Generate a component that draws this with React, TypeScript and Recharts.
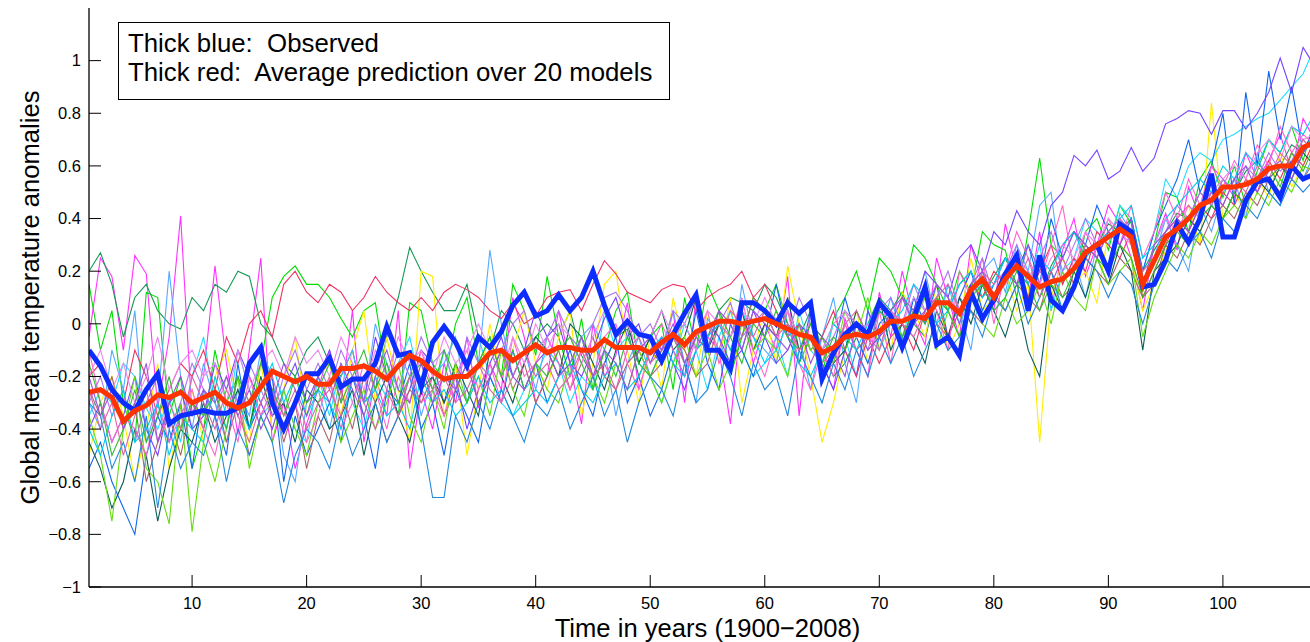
import React from 'react';
import { LineChart, Line, XAxis, YAxis } from 'recharts';

const FONT = '"Liberation Sans", Arial, Helvetica, sans-serif';

// time index 1..109 (1900-2008)
const years: number[] = Array.from({ length: 109 }, (_, i) => i + 1);
const xTicks = [10, 20, 30, 40, 50, 60, 70, 80, 90, 100];
const yTicks = [-1, -0.8, -0.6, -0.4, -0.2, 0, 0.2, 0.4, 0.6, 0.8, 1];

const observed = [
  -0.10, -0.16, -0.25, -0.30, -0.33, -0.25, -0.19, -0.38, -0.35, -0.34,
  -0.33, -0.34, -0.34, -0.32, -0.15, -0.09, -0.30, -0.40, -0.30, -0.19,
  -0.19, -0.13, -0.24, -0.21, -0.21, -0.15, -0.01, -0.12, -0.11, -0.24,
  -0.07, -0.01, -0.07, -0.16, -0.05, -0.09, -0.03, 0.07, 0.12, 0.03,
  0.05, 0.11, 0.05, 0.10, 0.20, 0.07, -0.04, 0.01, -0.04, -0.05,
  -0.14, -0.04, 0.04, 0.11, -0.10, -0.10, -0.17, 0.08, 0.08, 0.05,
  0.00, 0.08, 0.04, 0.08, -0.21, -0.11, -0.04, 0.00, -0.04, 0.08,
  0.03, -0.09, 0.02, 0.14, -0.08, -0.05, -0.12, 0.12, 0.02, 0.09,
  0.19, 0.26, 0.05, 0.26, 0.09, 0.05, 0.14, 0.27, 0.30, 0.20,
  0.38, 0.35, 0.14, 0.15, 0.24, 0.38, 0.31, 0.40, 0.57, 0.33,
  0.33, 0.47, 0.54, 0.55, 0.48, 0.60, 0.55, 0.57, 0.45,
];

const average = [
  -0.26, -0.25, -0.28, -0.37, -0.33, -0.31, -0.27, -0.28, -0.26, -0.30,
  -0.28, -0.26, -0.30, -0.32, -0.30, -0.24, -0.18, -0.20, -0.22, -0.20,
  -0.23, -0.23, -0.17, -0.17, -0.16, -0.18, -0.21, -0.16, -0.12, -0.14,
  -0.18, -0.21, -0.20, -0.20, -0.16, -0.11, -0.10, -0.14, -0.11, -0.08,
  -0.11, -0.09, -0.09, -0.10, -0.10, -0.06, -0.09, -0.09, -0.09, -0.11,
  -0.07, -0.04, -0.08, -0.03, -0.01, 0.01, 0.01, 0.00, 0.01, 0.02,
  0.00, -0.02, -0.04, -0.05, -0.11, -0.09, -0.05, -0.04, -0.05, -0.03,
  0.01, 0.01, 0.03, 0.02, 0.08, 0.08, 0.04, 0.13, 0.17, 0.10,
  0.17, 0.22, 0.18, 0.14, 0.16, 0.17, 0.21, 0.27, 0.30, 0.33,
  0.36, 0.33, 0.15, 0.24, 0.33, 0.36, 0.40, 0.45, 0.47, 0.52,
  0.52, 0.53, 0.55, 0.59, 0.60, 0.60, 0.67, 0.69, 0.66,
];

const model01 = [
  -0.05, 0.25, 0.18, -0.10, 0.26, 0.19, -0.32, -0.05, 0.41, -0.35,
  -0.20, 0.22, -0.15, -0.42, -0.10, 0.25, -0.45, -0.30, -0.55, -0.38,
  -0.25, -0.10, -0.30, 0.05, -0.45, -0.20, -0.35, 0.05, -0.55, -0.25,
  -0.40, -0.15, -0.30, -0.05, -0.32, -0.15, -0.25, 0.10, -0.05, -0.30,
  -0.20, 0.05, -0.15, -0.38, 0.00, -0.20, -0.12, 0.08, -0.25, -0.10,
  -0.15, 0.05, -0.30, 0.10, -0.05, -0.10, -0.38, 0.05, -0.15, 0.00,
  -0.10, 0.18, -0.35, 0.05, -0.15, -0.25, 0.02, -0.10, -0.20, 0.12,
  -0.05, 0.20, 0.02, -0.08, 0.25, 0.10, -0.05, 0.30, 0.15, 0.05,
  0.38, 0.20, 0.10, 0.35, 0.05, 0.28, 0.40, 0.18, 0.30, 0.45,
  0.38, 0.25, 0.05, 0.30, 0.42, 0.28, 0.52, 0.40, 0.60, 0.55,
  0.48, 0.65, 0.55, 0.62, 0.72, 0.58, 0.78, 0.70, 0.75,
];
const model02 = [
  0.15, -0.10, 0.05, -0.30, -0.45, 0.12, 0.10, -0.35, -0.20, -0.55,
  -0.40, -0.10, -0.30, -0.20, -0.40, -0.15, 0.10, 0.18, 0.22, 0.15,
  0.15, 0.10, 0.02, -0.05, 0.05, 0.08, -0.20, -0.35, 0.08, 0.05,
  -0.15, -0.22, 0.00, 0.10, -0.15, -0.05, -0.20, 0.15, 0.05, -0.12,
  0.18, -0.05, -0.20, 0.02, -0.25, -0.10, 0.05, 0.12, -0.15, -0.05,
  0.00, -0.25, 0.10, -0.10, 0.15, 0.05, -0.20, -0.05, 0.10, 0.05,
  0.15, 0.00, -0.15, -0.05, -0.20, 0.02, 0.10, 0.20, 0.05, 0.25,
  0.20, 0.10, 0.30, 0.25, 0.15, 0.05, 0.20, 0.12, 0.35, 0.30,
  0.28, 0.10, 0.35, 0.63, 0.30, 0.25, 0.15, 0.35, 0.40, 0.28,
  0.45, 0.38, 0.12, 0.30, 0.50, 0.48, 0.35, 0.55, 0.62, 0.48,
  0.60, 0.45, 0.58, 0.70, 0.65, 0.75, 0.62, 0.78, 0.70,
];
const model03 = [
  0.20, 0.27, 0.15, -0.05, 0.10, 0.15, 0.05, 0.00, -0.02, 0.10,
  0.05, 0.15, 0.12, 0.20, 0.18, 0.00, -0.05, -0.15, -0.20, -0.10,
  -0.05, -0.15, -0.20, -0.10, -0.30, -0.25, -0.05, 0.10, 0.29, 0.20,
  0.12, 0.05, 0.05, 0.15, -0.05, -0.10, 0.05, 0.00, -0.10, -0.05,
  0.00, -0.05, 0.05, -0.12, -0.20, -0.15, -0.05, -0.02, -0.20, -0.10,
  -0.15, -0.05, 0.00, -0.10, -0.05, 0.05, 0.10, 0.08, 0.05, 0.15,
  0.10, 0.00, -0.05, 0.05, -0.10, -0.20, -0.15, -0.05, 0.00, 0.10,
  0.05, 0.12, 0.00, -0.05, 0.10, 0.05, 0.15, 0.20, 0.10, 0.18,
  0.25, 0.15, 0.20, 0.10, 0.22, 0.30, 0.35, 0.28, 0.30, 0.38,
  0.35, 0.40, 0.20, 0.28, 0.35, 0.42, 0.40, 0.50, 0.45, 0.55,
  0.50, 0.58, 0.62, 0.55, 0.60, 0.68, 0.65, 0.72, 0.70,
];
const model04 = [
  -0.50, -0.30, -0.20, -0.35, -0.60, -0.40, -0.15, -0.55, -0.35, -0.25,
  -0.45, -0.20, -0.10, -0.30, -0.45, -0.15, -0.40, -0.25, -0.05, -0.35,
  -0.20, -0.15, -0.35, -0.10, 0.05, -0.30, -0.05, -0.25, -0.45, 0.20,
  0.18, -0.35, -0.15, -0.50, -0.25, 0.00, -0.20, -0.10, 0.05, -0.15,
  -0.25, -0.05, 0.05, -0.35, -0.15, 0.15, 0.20, -0.10, -0.30, -0.05,
  -0.25, 0.10, -0.10, -0.20, 0.05, -0.15, 0.10, -0.30, -0.10, 0.05,
  -0.15, 0.22, 0.00, -0.20, -0.45, -0.30, -0.10, 0.05, -0.15, 0.00,
  -0.10, 0.12, 0.05, -0.05, 0.15, -0.10, 0.00, 0.25, 0.05, 0.10,
  0.20, 0.05, 0.15, -0.45, 0.10, 0.25, 0.15, 0.20, 0.08, 0.35,
  0.30, 0.25, 0.05, 0.15, 0.28, 0.35, 0.45, 0.30, 0.84, 0.40,
  0.50, 0.42, 0.55, 0.48, 0.65, 0.52, 0.60, 0.70, 0.62,
];
const model05 = [
  -0.35, -0.25, -0.30, -0.15, -0.20, -0.32, -0.40, -0.28, -0.45, -0.20,
  -0.05, -0.30, -0.40, -0.10, -0.25, -0.35, -0.30, -0.25, -0.40, -0.45,
  -0.20, -0.35, -0.15, -0.30, -0.40, -0.20, -0.28, -0.15, -0.05, -0.25,
  -0.30, -0.10, -0.25, -0.15, -0.05, -0.20, -0.30, -0.35, -0.25, -0.20,
  -0.10, -0.15, -0.30, -0.20, -0.25, 0.05, -0.10, -0.05, -0.15, -0.20,
  -0.30, -0.15, 0.00, -0.10, -0.25, -0.05, 0.05, -0.10, -0.20, -0.15,
  -0.05, -0.20, 0.05, -0.10, -0.15, 0.00, -0.05, -0.20, 0.05, -0.10,
  0.00, -0.05, 0.10, 0.05, -0.05, 0.15, 0.00, 0.10, 0.20, 0.05,
  0.10, 0.25, 0.15, 0.30, 0.05, 0.20, 0.25, 0.40, 0.35, 0.30,
  0.45, 0.40, 0.20, 0.35, 0.55, 0.48, 0.60, 0.65, 0.62, 0.70,
  0.72, 0.75, 0.78, 0.80, 0.85, 0.90, 0.95, 1.05, 1.00,
];
const model06 = [
  -0.30, -0.40, -0.10, -0.25, 0.05, -0.45, -0.30, 0.20, -0.20, -0.40,
  -0.15, -0.30, -0.45, -0.25, -0.35, -0.10, -0.20, -0.50, -0.60, -0.30,
  -0.25, -0.40, -0.20, -0.10, -0.30, 0.00, -0.15, -0.25, -0.10, -0.35,
  -0.20, -0.15, -0.05, -0.30, -0.15, 0.28, 0.00, -0.20, -0.10, -0.25,
  -0.05, -0.15, -0.20, -0.05, 0.00, -0.10, -0.35, -0.15, -0.05, -0.20,
  -0.10, 0.05, -0.15, -0.30, 0.02, -0.05, -0.20, 0.15, -0.05, -0.10,
  -0.15, 0.05, -0.05, -0.25, -0.05, 0.10, -0.15, -0.30, 0.05, -0.05,
  0.10, -0.05, 0.05, 0.20, 0.00, 0.15, 0.05, -0.10, 0.20, 0.25,
  0.12, 0.30, 0.20, 0.45, 0.50, 0.15, 0.25, 0.10, 0.30, 0.20,
  0.42, 0.35, 0.15, 0.25, 0.40, 0.30, 0.20, 0.45, 0.35, 0.50,
  0.55, 0.40, 0.65, 0.50, 0.45, 0.60, 0.55, 0.65, 0.60,
];
const model07 = [
  -0.55, -0.45, -0.60, -0.70, -0.80, -0.50, -0.35, -0.45, -0.30, -0.55,
  -0.25, -0.35, -0.50, -0.15, -0.40, -0.30, -0.20, -0.60, -0.35, -0.50,
  -0.40, -0.30, -0.45, -0.20, -0.35, -0.55, -0.25, -0.30, -0.15, -0.40,
  -0.30, -0.50, -0.25, -0.35, -0.45, -0.20, -0.30, -0.10, -0.25, -0.15,
  -0.30, -0.20, -0.10, -0.25, -0.35, -0.15, -0.05, -0.30, -0.20, -0.35,
  -0.25, -0.10, -0.20, 0.05, -0.15, -0.25, 0.00, -0.10, -0.20, -0.05,
  0.15, -0.05, -0.15, 0.05, -0.20, -0.10, 0.10, -0.05, -0.15, 0.00,
  0.05, -0.10, 0.10, 0.00, 0.15, -0.05, 0.10, 0.20, 0.05, 0.15,
  0.25, 0.20, 0.30, 0.15, 0.40, 0.25, 0.35, 0.30, 0.45, 0.35,
  0.30, 0.40, 0.20, 0.35, 0.45, 0.55, 0.70, 0.50, 0.60, 0.80,
  0.45, 0.88, 0.60, 0.96, 0.70, 0.90, 0.65, 0.75, 0.80,
];
const model08 = [
  -0.40, -0.30, -0.45, -0.35, -0.20, -0.40, -0.50, -0.30, -0.25, -0.40,
  -0.35, -0.15, -0.25, -0.10, -0.20, -0.30, -0.40, -0.25, -0.15, -0.30,
  -0.20, -0.10, -0.25, -0.15, -0.30, -0.05, -0.20, -0.35, -0.25, -0.10,
  -0.15, -0.30, -0.20, -0.40, -0.25, -0.15, -0.05, -0.20, -0.10, 0.05,
  -0.05, 0.00, -0.15, -0.20, -0.10, 0.02, 0.10, -0.05, 0.00, -0.15,
  -0.05, -0.15, -0.25, -0.10, 0.00, -0.05, -0.15, -0.10, 0.05, -0.05,
  -0.15, -0.10, 0.00, -0.05, -0.15, -0.25, -0.10, -0.20, 0.05, -0.05,
  0.00, 0.10, 0.05, 0.20, 0.15, 0.10, 0.25, 0.30, 0.20, 0.35,
  0.30, 0.43, 0.35, 0.30, 0.45, 0.50, 0.64, 0.60, 0.66, 0.55,
  0.58, 0.67, 0.58, 0.63, 0.76, 0.78, 0.81, 0.80, 0.72, 0.81,
  0.81, 0.74, 0.80, 0.88, 1.01, 0.88, 1.05, 0.98, 0.95,
];
const model09 = [
  -0.20, -0.15, -0.25, -0.30, -0.10, -0.20, -0.35, -0.25, -0.15, -0.20,
  -0.10, -0.25, -0.05, -0.15, 0.00, 0.05, -0.05, 0.15, 0.20, 0.12,
  0.08, 0.15, 0.12, 0.05, 0.10, 0.18, 0.12, 0.08, 0.05, 0.10,
  0.05, 0.12, 0.15, 0.13, 0.10, 0.05, 0.02, 0.08, 0.00, 0.03,
  0.10, 0.12, 0.13, 0.05, 0.15, 0.24, 0.19, 0.12, 0.10, 0.08,
  0.13, 0.15, 0.14, 0.05, 0.10, 0.13, 0.15, 0.20, 0.10, 0.15,
  0.05, -0.05, 0.00, -0.10, -0.05, 0.05, -0.10, -0.20, -0.05, -0.15,
  -0.05, 0.00, -0.10, 0.05, 0.10, -0.05, 0.05, 0.15, 0.10, 0.20,
  0.15, 0.25, 0.10, 0.20, 0.30, 0.15, 0.25, 0.20, 0.35, 0.30,
  0.25, 0.35, 0.10, 0.20, 0.30, 0.40, 0.35, 0.45, 0.40, 0.50,
  0.45, 0.55, 0.50, 0.62, 0.55, 0.65, 0.60, 0.70, 0.65,
];
const model10 = [
  -0.25, -0.35, -0.20, -0.40, -0.30, -0.60, -0.45, -0.35, -0.50, -0.30,
  -0.40, -0.25, -0.45, -0.30, -0.50, -0.35, -0.25, -0.45, -0.30, -0.55,
  -0.35, -0.45, -0.25, -0.40, -0.20, -0.30, -0.45, -0.35, -0.25, -0.30,
  -0.20, -0.35, -0.25, -0.15, -0.30, -0.20, -0.10, -0.25, -0.15, -0.30,
  -0.20, -0.10, -0.25, -0.15, -0.05, -0.20, -0.25, -0.15, -0.10, -0.20,
  -0.15, -0.05, -0.10, -0.20, -0.15, 0.00, -0.10, -0.05, 0.10, 0.05,
  -0.05, 0.05, -0.10, -0.05, -0.20, -0.15, 0.00, -0.10, -0.05, 0.05,
  0.00, -0.05, 0.05, 0.10, 0.00, -0.05, 0.10, 0.05, 0.00, 0.12,
  0.05, 0.15, 0.10, 0.05, 0.20, 0.10, 0.15, 0.25, 0.20, 0.15,
  0.25, 0.20, 0.10, 0.15, 0.30, 0.25, 0.35, 0.30, 0.40, 0.45,
  0.40, 0.50, 0.45, 0.55, 0.50, 0.60, 0.55, 0.62, 0.58,
];
const model11 = [
  -0.45, -0.55, -0.70, -0.60, -0.40, -0.50, -0.75, -0.55, -0.40, -0.45,
  -0.30, -0.45, -0.35, -0.25, -0.40, -0.20, -0.35, -0.30, -0.45, -0.25,
  -0.30, -0.40, -0.35, -0.25, -0.50, -0.30, -0.20, -0.35, -0.45, -0.25,
  -0.20, -0.30, -0.15, -0.25, -0.35, -0.10, -0.20, -0.30, -0.15, -0.05,
  -0.10, -0.20, 0.00, -0.05, -0.15, -0.25, -0.10, 0.00, -0.15, -0.05,
  0.05, -0.10, -0.05, 0.10, -0.10, 0.00, -0.05, 0.05, -0.10, 0.00,
  -0.05, 0.10, -0.10, 0.00, -0.05, -0.15, -0.10, 0.05, -0.05, 0.10,
  -0.10, 0.00, -0.05, -0.15, 0.05, -0.05, 0.10, 0.00, 0.15, 0.05,
  -0.05, 0.10, -0.10, -0.20, 0.15, 0.05, 0.20, 0.10, 0.25, 0.15,
  0.30, 0.20, -0.10, 0.20, 0.25, 0.30, 0.40, 0.35, 0.45, 0.40,
  0.50, 0.45, 0.55, 0.50, 0.60, 0.55, 0.65, 0.60, 0.62,
];
const model12 = [
  -0.35, -0.50, -0.75, -0.40, -0.20, -0.55, -0.60, -0.76, -0.30, -0.79,
  -0.45, -0.60, -0.40, -0.20, -0.55, -0.35, -0.45, -0.25, -0.40, -0.50,
  -0.30, -0.20, -0.45, -0.35, -0.25, -0.40, -0.30, -0.15, -0.35, -0.45,
  -0.25, -0.40, -0.15, -0.30, -0.20, -0.35, -0.10, -0.25, -0.35, -0.15,
  -0.25, -0.30, -0.15, -0.05, -0.20, -0.30, -0.15, -0.25, -0.10, -0.20,
  -0.30, -0.15, -0.05, -0.20, -0.10, -0.25, -0.15, 0.00, -0.10, -0.05,
  -0.10, -0.20, 0.00, -0.10, -0.05, -0.15, 0.05, -0.05, 0.10, -0.10,
  0.05, -0.05, 0.00, 0.10, -0.10, 0.05, -0.05, 0.10, 0.00, -0.05,
  0.10, 0.00, 0.05, 0.15, 0.00, 0.20, 0.10, 0.05, 0.25, 0.15,
  0.20, 0.25, -0.05, 0.10, 0.20, 0.30, 0.25, 0.35, 0.30, 0.40,
  0.45, 0.40, 0.50, 0.45, 0.55, 0.50, 0.60, 0.58, 0.62,
];
const model13 = [
  -0.10, -0.30, -0.45, -0.35, -0.40, -0.50, -0.30, -0.45, -0.35, -0.25,
  -0.40, -0.50, -0.30, -0.45, -0.20, -0.35, -0.25, -0.40, -0.30, -0.45,
  -0.35, -0.20, -0.40, -0.30, -0.15, -0.25, -0.40, -0.20, -0.30, -0.10,
  -0.25, -0.35, -0.20, -0.10, -0.25, -0.15, -0.30, -0.05, -0.20, -0.15,
  -0.05, -0.15, -0.25, -0.10, -0.20, -0.05, 0.00, -0.15, -0.25, -0.10,
  0.00, -0.10, -0.20, -0.05, 0.05, -0.15, -0.05, 0.10, -0.10, -0.20,
  -0.05, 0.05, -0.15, -0.25, -0.10, -0.20, 0.00, -0.10, -0.20, 0.05,
  -0.15, 0.10, 0.00, 0.15, 0.05, -0.10, 0.20, 0.10, 0.25, 0.00,
  0.20, 0.35, 0.25, 0.15, 0.30, 0.45, 0.20, 0.35, 0.25, 0.40,
  0.30, 0.45, 0.25, 0.35, 0.50, 0.40, 0.55, 0.45, 0.60, 0.52,
  0.62, 0.55, 0.68, 0.60, 0.75, 0.65, 0.72, 0.68, 0.70,
];
const model14 = [
  -0.30, -0.20, -0.35, -0.25, -0.45, -0.30, -0.20, -0.40, -0.30, -0.15,
  -0.25, -0.35, -0.20, -0.30, -0.15, -0.25, -0.35, -0.20, -0.10, -0.25,
  -0.15, -0.25, -0.10, -0.20, -0.30, -0.15, -0.25, -0.10, -0.20, -0.05,
  -0.15, -0.10, -0.25, -0.05, -0.15, -0.20, -0.10, 0.00, 0.05, -0.10,
  -0.05, 0.05, -0.05, -0.10, 0.00, 0.10, 0.12, 0.05, -0.05, 0.00,
  -0.10, 0.05, 0.00, 0.10, -0.05, 0.00, 0.08, -0.05, 0.00, 0.05,
  0.02, -0.05, 0.10, 0.00, -0.10, -0.05, 0.05, 0.00, -0.10, 0.05,
  0.10, 0.00, 0.15, 0.05, 0.10, 0.20, 0.05, 0.15, 0.25, 0.10,
  0.20, 0.30, 0.15, 0.25, 0.35, 0.20, 0.30, 0.40, 0.30, 0.35,
  0.40, 0.30, 0.15, 0.25, 0.35, 0.45, 0.40, 0.50, 0.45, 0.55,
  0.50, 0.60, 0.55, 0.65, 0.58, 0.62, 0.70, 0.65, 0.68,
];
const model15 = [
  -0.40, -0.50, -0.35, -0.25, -0.45, -0.40, -0.30, -0.50, -0.35, -0.40,
  -0.45, -0.20, -0.35, -0.30, -0.40, -0.25, -0.15, -0.30, -0.20, -0.35,
  -0.25, -0.30, -0.40, -0.20, -0.30, -0.25, -0.35, -0.30, -0.40, -0.20,
  -0.30, -0.25, -0.35, -0.30, -0.20, -0.30, -0.25, -0.35, -0.30, -0.25,
  -0.30, -0.20, -0.15, -0.25, -0.30, -0.20, -0.15, -0.25, -0.20, -0.10,
  -0.05, -0.15, -0.20, -0.10, -0.05, 0.00, -0.10, 0.05, -0.05, -0.15,
  -0.10, 0.00, -0.15, -0.20, -0.10, 0.00, -0.05, -0.10, 0.00, 0.05,
  0.00, 0.05, 0.15, 0.10, 0.00, 0.05, 0.15, 0.20, 0.10, 0.15,
  0.25, 0.20, 0.15, 0.25, 0.20, 0.30, 0.35, 0.25, 0.30, 0.35,
  0.40, 0.45, 0.25, 0.30, 0.40, 0.45, 0.50, 0.55, 0.50, 0.60,
  0.55, 0.65, 0.60, 0.70, 0.65, 0.75, 0.72, 0.80, 0.78,
];
const model16 = [
  -0.30, -0.35, -0.55, -0.45, -0.60, -0.35, -0.70, -0.40, -0.55, -0.45,
  -0.50, -0.35, -0.60, -0.40, -0.50, -0.35, -0.45, -0.68, -0.50, -0.40,
  -0.45, -0.55, -0.35, -0.50, -0.40, -0.30, -0.45, -0.35, -0.20, -0.40,
  -0.66, -0.66, -0.35, -0.45, -0.30, -0.40, -0.25, -0.35, -0.45, -0.30,
  -0.35, -0.25, -0.40, -0.30, -0.20, -0.35, -0.25, -0.45, -0.30, -0.20,
  -0.25, -0.35, -0.15, -0.30, -0.25, -0.10, -0.20, -0.35, -0.15, -0.25,
  -0.20, -0.35, -0.10, -0.20, -0.30, -0.15, -0.25, -0.10, -0.20, -0.05,
  -0.15, -0.05, -0.20, -0.10, 0.00, -0.10, -0.05, 0.05, -0.05, 0.10,
  0.05, 0.15, 0.00, 0.10, 0.20, 0.05, 0.15, 0.25, 0.20, 0.10,
  0.20, 0.15, 0.00, 0.15, 0.25, 0.20, 0.30, 0.35, 0.25, 0.40,
  0.35, 0.45, 0.40, 0.50, 0.45, 0.55, 0.50, 0.55, 0.52,
];
const model17 = [
  -0.20, -0.10, -0.25, -0.15, -0.30, -0.20, -0.05, -0.25, -0.15, -0.10,
  -0.20, -0.15, -0.30, -0.10, -0.25, -0.15, -0.10, -0.20, -0.05, -0.15,
  -0.10, -0.20, -0.05, -0.15, -0.25, -0.10, -0.20, -0.05, -0.15, -0.10,
  -0.20, -0.05, -0.15, -0.10, 0.00, -0.10, -0.20, -0.05, -0.15, 0.00,
  -0.10, 0.00, -0.05, -0.15, -0.05, 0.05, -0.05, 0.00, -0.10, -0.05,
  0.05, -0.05, 0.00, -0.10, 0.05, 0.00, -0.05, 0.05, 0.00, 0.10,
  0.00, 0.05, -0.05, 0.00, -0.10, 0.00, 0.05, -0.05, 0.00, -0.10,
  0.05, 0.00, 0.10, 0.05, 0.15, 0.10, 0.05, 0.15, 0.20, 0.10,
  0.15, 0.25, 0.20, 0.15, 0.25, 0.30, 0.25, 0.35, 0.30, 0.40,
  0.35, 0.30, 0.15, 0.30, 0.40, 0.35, 0.45, 0.40, 0.50, 0.55,
  0.60, 0.55, 0.65, 0.70, 0.62, 0.75, 0.70, 0.72, 0.75,
];
const model18 = [
  -0.15, -0.30, -0.50, -0.40, -0.25, -0.45, -0.35, -0.20, -0.40, -0.30,
  -0.35, -0.25, -0.40, -0.20, -0.30, -0.15, -0.25, -0.35, -0.20, -0.30,
  -0.25, -0.15, -0.30, -0.20, -0.10, -0.25, -0.15, -0.30, -0.20, -0.15,
  -0.25, -0.10, -0.20, -0.30, -0.15, -0.05, -0.20, -0.10, -0.25, -0.15,
  -0.20, -0.10, -0.05, -0.15, -0.25, -0.10, -0.20, -0.05, -0.15, -0.20,
  -0.10, -0.05, -0.15, -0.05, -0.10, 0.05, -0.05, -0.15, 0.00, -0.05,
  0.05, -0.05, -0.10, 0.00, -0.15, -0.05, -0.10, 0.00, -0.05, 0.05,
  0.00, -0.05, 0.05, 0.00, 0.10, 0.05, -0.05, 0.10, 0.15, 0.05,
  0.10, 0.20, 0.15, 0.05, 0.15, 0.10, 0.20, 0.30, 0.25, 0.20,
  0.30, 0.25, 0.10, 0.20, 0.30, 0.35, 0.30, 0.40, 0.45, 0.40,
  0.50, 0.45, 0.55, 0.60, 0.52, 0.65, 0.58, 0.68, 0.62,
];
const model19 = [
  -0.25, -0.40, -0.30, -0.50, -0.35, -0.25, -0.45, -0.30, -0.40, -0.20,
  -0.30, -0.40, -0.25, -0.35, -0.45, -0.30, -0.20, -0.35, -0.25, -0.40,
  -0.30, -0.25, -0.35, -0.20, -0.30, -0.40, -0.25, -0.35, -0.20, -0.30,
  -0.25, -0.20, -0.30, -0.25, -0.15, -0.25, -0.30, -0.20, -0.10, -0.20,
  -0.15, -0.25, -0.20, -0.10, -0.20, -0.15, -0.25, -0.10, -0.05, -0.15,
  -0.10, -0.05, -0.15, -0.05, 0.00, -0.10, 0.05, 0.00, -0.05, 0.05,
  -0.05, 0.00, -0.10, -0.05, -0.15, -0.10, 0.00, 0.05, -0.05, -0.10,
  0.05, 0.00, -0.05, 0.05, 0.10, 0.15, 0.05, 0.10, 0.20, 0.15,
  0.20, 0.15, 0.25, 0.10, 0.20, 0.25, 0.15, 0.30, 0.25, 0.35,
  0.40, 0.35, 0.20, 0.25, 0.35, 0.40, 0.45, 0.40, 0.50, 0.45,
  0.55, 0.50, 0.60, 0.55, 0.65, 0.60, 0.70, 0.65, 0.68,
];
const model20 = [
  -0.20, -0.35, -0.25, -0.40, -0.30, -0.15, -0.45, -0.30, -0.20, -0.35,
  -0.25, -0.30, -0.20, -0.35, -0.25, -0.40, -0.30, -0.15, -0.25, -0.35,
  -0.20, -0.30, -0.15, -0.25, -0.35, -0.20, -0.10, -0.25, -0.30, -0.15,
  -0.30, -0.20, -0.25, -0.15, -0.30, -0.20, -0.10, -0.20, -0.25, -0.15,
  -0.10, -0.20, -0.15, -0.05, -0.20, -0.10, -0.15, -0.25, -0.10, -0.05,
  -0.10, 0.00, -0.15, -0.05, -0.10, 0.05, 0.00, -0.10, 0.05, 0.00,
  -0.05, -0.10, 0.00, -0.15, -0.05, -0.10, -0.20, 0.00, -0.10, -0.05,
  0.05, 0.10, 0.00, 0.05, 0.15, 0.10, 0.00, 0.15, 0.20, 0.10,
  0.20, 0.15, 0.30, 0.20, 0.15, 0.25, 0.35, 0.30, 0.25, 0.35,
  0.30, 0.40, 0.15, 0.30, 0.35, 0.40, 0.35, 0.45, 0.50, 0.45,
  0.55, 0.60, 0.50, 0.58, 0.62, 0.55, 0.65, 0.70, 0.68,
];

const models = [
  model01, model02, model03, model04, model05, model06, model07, model08, model09, model10,
  model11, model12, model13, model14, model15, model16, model17, model18, model19, model20,
];
const modelColors = [
  '#ff33ff', '#00dd00', '#159955', '#ffee00', '#22ddff', '#55aaff', '#1166ee', '#7744ff', '#ee3366', '#aa6666',
  '#0a5c55', '#66dd11', '#ff66cc', '#aa77ee', '#00ccee', '#2288dd', '#ee88ee', '#33bb33', '#dd66aa', '#9955dd',
];

const data = years.map((x, i) => {
  const row: Record<string, number> = { x, obs: observed[i], avg: average[i] };
  models.forEach((m, k) => {
    if (m[i] !== undefined) row['m' + k] = m[i];
  });
  return row;
});

const TICK_MARGIN_Y = 8;
const TICK_MARGIN_X = 10;
const TICK_LEN = 12;
const TICK_FONT = 16.5;
const TITLE_FONT = 25.6;

const fmt = (v: number) => {
  const s = String(Math.round(Math.abs(v) * 10) / 10);
  return v < 0 ? '\u2212' + s : s;
};

const YTick = (props: any) => {
  const { x, y, payload } = props;
  const ax = x + TICK_MARGIN_Y;
  return (
    <g>
      <line x1={ax} x2={ax + TICK_LEN} y1={y} y2={y} stroke="#000" strokeWidth={1} />
      <text x={x} y={y} dy="0.35em" textAnchor="end" fontSize={TICK_FONT} fontFamily={FONT} fill="#000">
        {fmt(payload.value)}
      </text>
    </g>
  );
};

const XTick = (props: any) => {
  const { x, y, payload } = props;
  const ay = y - TICK_MARGIN_X;
  return (
    <g>
      <line x1={x} x2={x} y1={ay} y2={ay - TICK_LEN} stroke="#000" strokeWidth={1} />
      <text x={x} y={y} dy="0.72em" textAnchor="middle" fontSize={TICK_FONT} fontFamily={FONT} fill="#000">
        {payload.value}
      </text>
    </g>
  );
};

const YTitle = (props: any) => {
  const vb = props.viewBox || {};
  const cx = 30;
  const cy = vb.y + vb.height / 2;
  return (
    <text
      x={cx}
      y={cy}
      dy="0.35em"
      transform={`rotate(-90, ${cx}, ${cy})`}
      textAnchor="middle"
      fontSize={TITLE_FONT}
      fontFamily={FONT}
      fill="#000"
    >
      Global mean temperature anomalies
    </text>
  );
};

const XTitle = (props: any) => {
  const vb = props.viewBox || {};
  const cx = vb.x + vb.width / 2;
  return (
    <text x={cx} y={vb.y + 41} dy="0.35em" textAnchor="middle" fontSize={TITLE_FONT} fontFamily={FONT} fill="#000">
      Time in years (1900{'\u2212'}2008)
    </text>
  );
};

export default function App() {
  return (
    <div
      style={{
        position: 'fixed',
        left: 0,
        top: 0,
        width: 1310,
        height: 642,
        overflow: 'hidden',
        background: '#fff',
      }}
    >
      <LineChart
        width={1326}
        height={642}
        data={data}
        margin={{ top: 8, right: 0, bottom: 0, left: 0 }}
      >
        <XAxis
          dataKey="x"
          type="number"
          domain={[1, 109]}
          ticks={xTicks}
          height={55}
          tickSize={0}
          tickMargin={TICK_MARGIN_X}
          tickLine={false}
          axisLine={{ stroke: '#000', strokeWidth: 1.3 }}
          tick={<XTick />}
          interval={0}
          allowDataOverflow
          label={<XTitle />}
        />
        <YAxis
          type="number"
          domain={[-1, 1.2]}
          ticks={yTicks}
          width={89}
          tickSize={0}
          tickMargin={TICK_MARGIN_Y}
          tickLine={false}
          axisLine={{ stroke: '#000', strokeWidth: 1.3 }}
          tick={<YTick />}
          interval={0}
          allowDataOverflow
          label={<YTitle />}
        />
        {models.map((_, k) => (
          <Line
            key={k}
            type="linear"
            dataKey={'m' + k}
            stroke={modelColors[k]}
            strokeWidth={1.1}
            dot={false}
            activeDot={false}
            isAnimationActive={false}
          />
        ))}
        <Line
          type="linear"
          dataKey="obs"
          stroke="#0d2dff"
          strokeWidth={5}
          dot={false}
          activeDot={false}
          isAnimationActive={false}
        />
        <Line
          type="linear"
          dataKey="avg"
          stroke="#ff3300"
          strokeWidth={5}
          dot={false}
          activeDot={false}
          isAnimationActive={false}
        />
      </LineChart>
      <div
        style={{
          position: 'absolute',
          left: 118,
          top: 22,
          width: 541,
          height: 70,
          border: '1px solid #000',
          background: '#fff',
          fontFamily: FONT,
          fontSize: 25.8,
          lineHeight: '29px',
          paddingLeft: 9,
          paddingTop: 6,
          boxSizing: 'content-box',
          whiteSpace: 'pre',
          color: '#000',
        }}
      >
        <div>{'Thick blue:  Observed'}</div>
        <div>{'Thick red:  Average prediction over 20 models'}</div>
      </div>
    </div>
  );
}
